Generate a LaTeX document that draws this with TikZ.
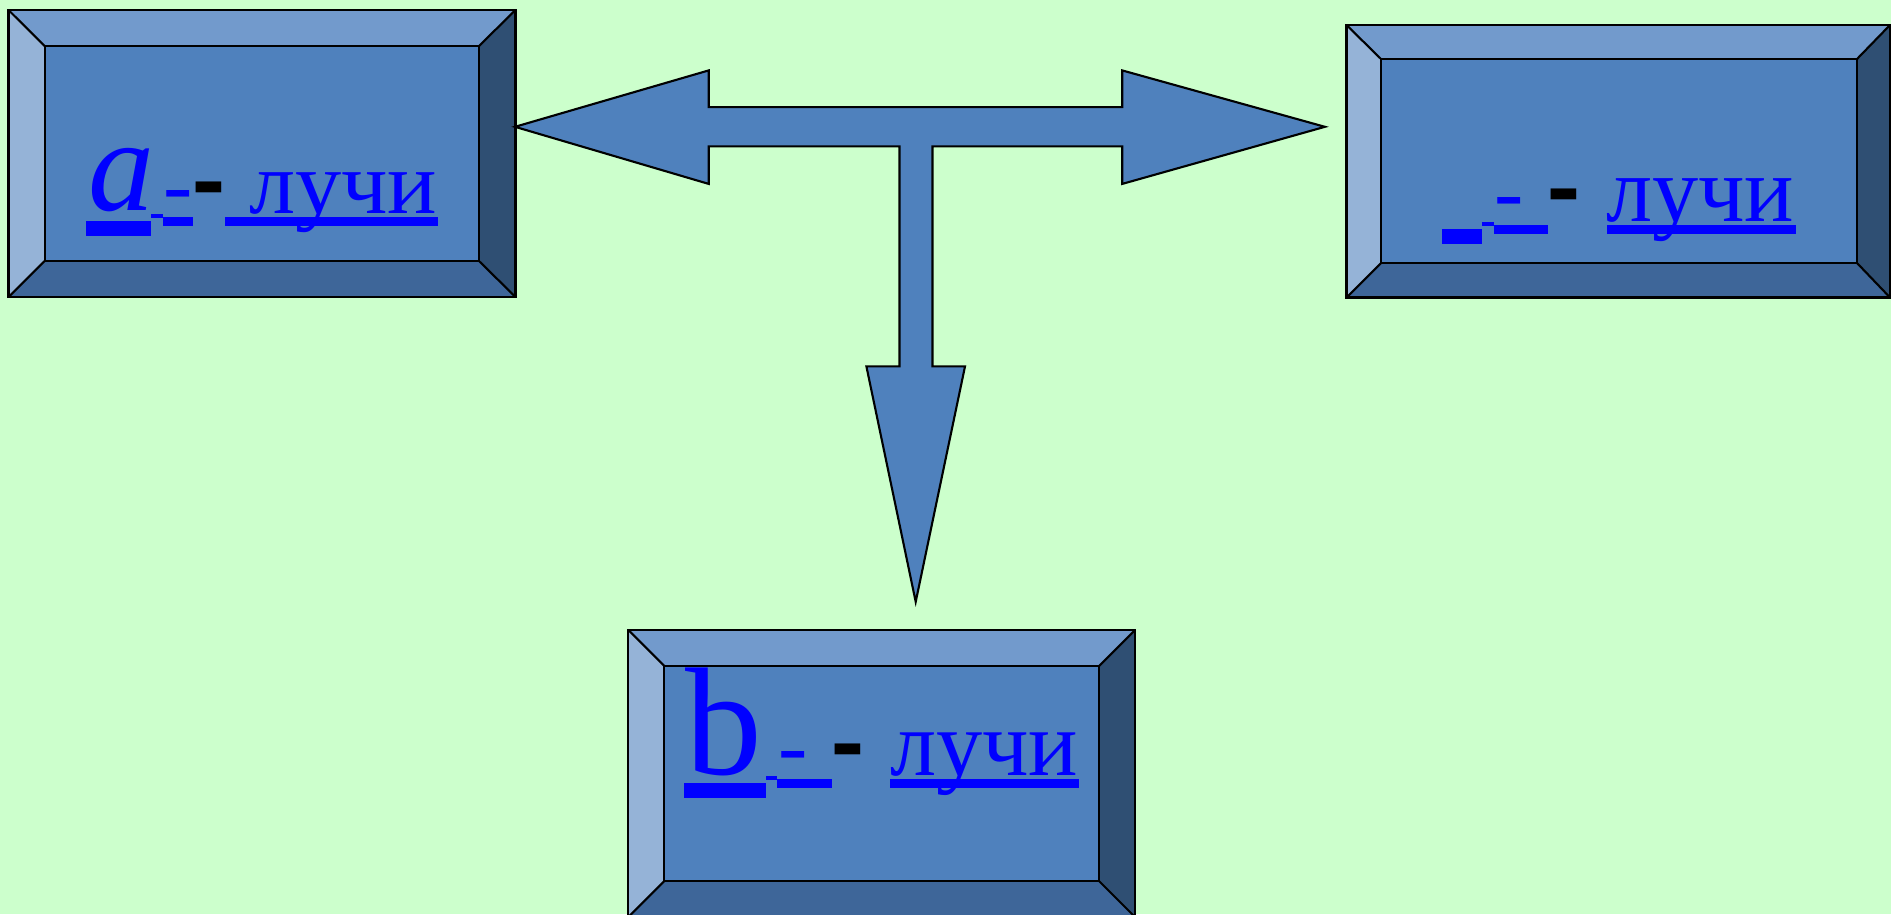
\documentclass[tikz,border=0pt]{standalone}
\usepackage{fontspec}
\usepackage{graphicx}
\setmainfont{Liberation Serif}
\definecolor{bg}{HTML}{CCFFCC}
\definecolor{face}{HTML}{4F81BD}
\definecolor{bevtop}{HTML}{729ACC}
\definecolor{bevleft}{HTML}{95B3D7}
\definecolor{bevright}{HTML}{2F4F73}
\definecolor{bevbot}{HTML}{3E6699}
\definecolor{linkblue}{HTML}{0000FF}
\newcommand\bevbox[8]{%
  \fill[bevtop] (#1,#2) -- (#3,#2) -- (#7,#6) -- (#5,#6) -- cycle;
  \fill[bevleft] (#1,#2) -- (#5,#6) -- (#5,#8) -- (#1,#4) -- cycle;
  \fill[bevright] (#3,#2) -- (#3,#4) -- (#7,#8) -- (#7,#6) -- cycle;
  \fill[bevbot] (#1,#4) -- (#5,#8) -- (#7,#8) -- (#3,#4) -- cycle;
  \fill[face] (#5,#6) rectangle (#7,#8);
  \draw[outline] (#1,#2) rectangle (#3,#4);
  \draw[outline] (#5,#6) rectangle (#7,#8);
  \draw[outline] (#1,#2) -- (#5,#6) (#3,#2) -- (#7,#6) (#1,#4) -- (#5,#8) (#3,#4) -- (#7,#8);
}
\begin{document}
\begin{tikzpicture}[x=0.01cm,y=-0.01cm,
  outline/.style={draw=black,line width=0.6pt},
  word/.style={inner sep=0pt,outer sep=0pt,text=linkblue,font=\fontsize{25}{30}\selectfont},
  bluedash/.style={inner sep=0pt,outer sep=0pt,text=linkblue,font=\fontsize{25}{30}\selectfont},
  blackdash/.style={inner sep=0pt,outer sep=0pt,text=black,font=\fontsize{28}{32}\selectfont\bfseries},
  letA/.style={inner sep=0pt,outer sep=0pt,text=linkblue,font=\fontsize{39}{45}\selectfont\itshape},
  letB/.style={inner sep=0pt,outer sep=0pt,text=linkblue,font=\fontsize{44}{50}\selectfont},
  uline/.style={fill=linkblue}]
\useasboundingbox (0,0) rectangle (1891,914);
\fill[bg] (0,0) rectangle (1891,914);
\clip (0,0) rectangle (1891,914);

% boxes
\bevbox{8.5}{10}{515.5}{297}{44.6}{46}{479}{261}
\bevbox{1346.5}{25}{1890}{297.5}{1381}{59}{1857}{263}
\bevbox{628.3}{630}{1135}{917}{664.3}{666}{1099}{881}

% three-way arrow
\draw[outline,fill=face,line join=miter]
  (515,126.8) -- (708.7,70.4) -- (708.7,107.1) -- (1122.2,107.1) -- (1122.2,70.4)
  -- (1324.9,126.8) -- (1122.2,183.9) -- (1122.2,146.4) -- (932.5,146.4)
  -- (932.5,366.4) -- (965,366.4) -- (915.7,601.8) -- (866.4,366.4)
  -- (899.5,366.4) -- (899.5,146.4) -- (708.7,146.4) -- (708.7,183.9) -- cycle;

% box 1 text
\node[letA,anchor=north] (a1) at (121.7,148.3) {\resizebox*{!}{6.35mm}{a}};
\node[bluedash,anchor=north] (h1) at (178,190) {-};
\node[blackdash,anchor=north] (k1) at (209,181.7) {\scalebox{1}[1.3]{-}};
\node[word,anchor=north west] (w1) at (249,172.7) {\resizebox*{18.8mm}{6.0mm}{лучи}};
\fill[uline] (86,220.7) rectangle (150.7,235.7);
\fill[uline] (150.7,214) rectangle (162.7,218.3);
\fill[uline] (162.7,217.3) rectangle (192.7,225.7);
\fill[uline] (225,217.3) rectangle (437.7,225.7);

% box 2 text
\node[bluedash,anchor=north] (h2) at (1509.5,197) {-};
\node[blackdash,anchor=north] (k2) at (1564,189) {\scalebox{1}[1.3]{-}};
\node[word,anchor=north west] (w2) at (1606,178.3) {\resizebox*{18.8mm}{6.3mm}{лучи}};
\fill[uline] (1442,229) rectangle (1482,244);
\fill[uline] (1482,222) rectangle (1494,226);
\fill[uline] (1494,225) rectangle (1548,234);
\fill[uline] (1607,225) rectangle (1796,234);

% box 3 text
\node[letB,anchor=north] (b3) at (723.7,668.3) {\resizebox*{!}{10.8mm}{b}};
\node[bluedash,anchor=north] (h3) at (793.3,751.7) {-};
\node[blackdash,anchor=north] (k3) at (848,744.3) {\scalebox{1}[1.3]{-}};
\node[word,anchor=north west] (w3) at (890,733.3) {\resizebox*{18.8mm}{6.27mm}{лучи}};
\fill[uline] (684,783.3) rectangle (766,797.7);
\fill[uline] (766,775.7) rectangle (777.3,780);
\fill[uline] (777.3,778.7) rectangle (831.7,787.7);
\fill[uline] (890,778.7) rectangle (1079,787.7);
\end{tikzpicture}
\end{document}
